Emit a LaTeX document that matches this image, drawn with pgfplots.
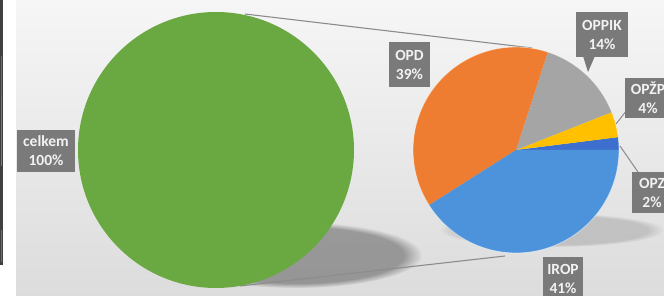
\documentclass[border=0pt]{standalone}
\usepackage{pgfplots}
\pgfplotsset{compat=1.18}
\usepackage{pgfplotstable}
\usetikzlibrary{fadings}
\usepackage{fontspec}
\setmainfont{Carlito}

\definecolor{bgtop}{HTML}{F6F6F6}
\definecolor{bgbot}{HTML}{DCDCDC}
\definecolor{cgreen}{HTML}{6AA941}
\definecolor{corange}{HTML}{EE7D31}
\definecolor{cgrey}{HTML}{A5A5A5}
\definecolor{cyellow}{HTML}{FFC000}
\definecolor{cdblue}{HTML}{3D6FCF}
\definecolor{cblue}{HTML}{4D93DC}
\definecolor{lbl}{HTML}{7A7A7A}
\definecolor{lead}{HTML}{8C8C8C}

% main pie (one slice)
\pgfplotstableread{
name value
celkem 100
}\bigpie
% secondary pie, counter-clockwise from 0 degrees
\pgfplotstableread{
name value
OPZ 2
OPZP 4
OPPIK 14
OPD 39
IROP 41
}\smallpie

\tikzset{lab/.style={fill=lbl, text=white!95!black, font=\bfseries\fontsize{15.5}{19}\selectfont, align=center, inner sep=0pt}}

\begin{document}
\begin{tikzpicture}
\pgfplotstablegetelem{0}{value}\of\smallpie\pgfmathsetmacro\vA{\pgfplotsretval}
\pgfplotstablegetelem{1}{value}\of\smallpie\pgfmathsetmacro\vB{\pgfplotsretval}
\pgfplotstablegetelem{2}{value}\of\smallpie\pgfmathsetmacro\vC{\pgfplotsretval}
\pgfplotstablegetelem{3}{value}\of\smallpie\pgfmathsetmacro\vD{\pgfplotsretval}
\pgfplotstablegetelem{4}{value}\of\smallpie\pgfmathsetmacro\vE{\pgfplotsretval}
\pgfplotstablegetelem{0}{value}\of\bigpie\pgfmathsetmacro\vBig{\pgfplotsretval}
\pgfmathsetmacro\aA{3.6*\vA}
\pgfmathsetmacro\aB{\aA+3.6*\vB}
\pgfmathsetmacro\aC{\aB+3.6*\vC}
\pgfmathsetmacro\aD{\aC+3.6*\vD}
\pgfmathsetmacro\aE{\aD+3.6*\vE}
\pgfmathsetmacro\aBig{3.6*\vBig}
\begin{axis}[x=1pt, y=1pt, xmin=0, xmax=664, ymin=0, ymax=296,
  hide axis, clip=true]
% background
\fill[top color=bgtop, bottom color=bgbot] (axis cs:0,0) rectangle (axis cs:664,296);
\fill[white] (axis cs:0,0) rectangle (axis cs:16,296);
\fill[black!75] (axis cs:0,31) rectangle (axis cs:3,296);
\fill[cblue!80!black] (axis cs:0.6,200) rectangle (axis cs:2.2,240);
\fill[corange!80!black] (axis cs:0.6,130) rectangle (axis cs:2.2,200);
\fill[cgreen!80!black] (axis cs:0.6,34) rectangle (axis cs:2.2,66);
% shadows
\fill[black, opacity=0.32, path fading=circle with fuzzy edge 15 percent] (axis cs:296,41) ellipse[x radius=126pt, y radius=33pt];
\fill[black, opacity=0.14, path fading=circle with fuzzy edge 15 percent] (axis cs:552,66) ellipse[x radius=112pt, y radius=17pt];
% connector lines
\draw[lead, line width=1.1pt] (axis cs:245,282) -- (axis cs:532,248);
\draw[lead, line width=1.1pt] (axis cs:240,10) -- (axis cs:505,40);
% big pie
\fill[cgreen] (axis cs:216,146) -- ++(0:138pt) arc[start angle=0, end angle=\aBig, radius=138pt] -- cycle;
% small pie
\fill[cdblue]  (axis cs:516,146) -- ++(0:103pt)   arc[start angle=0,   end angle=\aA, radius=103pt] -- cycle;
\fill[cyellow] (axis cs:516,146) -- ++(\aA:103pt) arc[start angle=\aA, end angle=\aB, radius=103pt] -- cycle;
\fill[cgrey]   (axis cs:516,146) -- ++(\aB:103pt) arc[start angle=\aB, end angle=\aC, radius=103pt] -- cycle;
\fill[corange] (axis cs:516,146) -- ++(\aC:103pt) arc[start angle=\aC, end angle=\aD, radius=103pt] -- cycle;
\fill[cblue]   (axis cs:516,146) -- ++(\aD:103pt) arc[start angle=\aD, end angle=\aE, radius=103pt] -- cycle;
\draw[white, opacity=0.5, line width=0.8pt] (axis cs:516,146) circle[radius=103pt];
% leader lines
\draw[lead, line width=1pt] (axis cs:616,172) -- (axis cs:627,186);
\draw[lead, line width=1pt] (axis cs:620,150) -- (axis cs:638,124);
% labels
\node[lab, minimum width=58pt, minimum height=42pt] at (axis cs:46,145) {celkem\\100\%};
\node[lab, minimum width=41pt, minimum height=45pt] at (axis cs:409.5,231.5) {OPD\\39\%};
\fill[lbl] (axis cs:583,240) -- (axis cs:588,224) -- (axis cs:595,240) -- cycle;
\node[lab, minimum width=52pt, minimum height=45pt] at (axis cs:602,261.5) {OPPIK\\14\%};
\node[lab, minimum width=46pt, minimum height=40pt] at (axis cs:648,198) {OPŽP\\4\%};
\node[lab, minimum width=40pt, minimum height=41pt] at (axis cs:652,103.5) {OPZ\\2\%};
\node[lab, minimum width=40pt, minimum height=44pt] at (axis cs:563,17) {IROP\\41\%};
\coordinate (SW) at (axis cs:0,0);
\coordinate (NE) at (axis cs:664,296);
\end{axis}
\pgfresetboundingbox
\path[use as bounding box] (SW) rectangle (NE);
\end{tikzpicture}
\end{document}
